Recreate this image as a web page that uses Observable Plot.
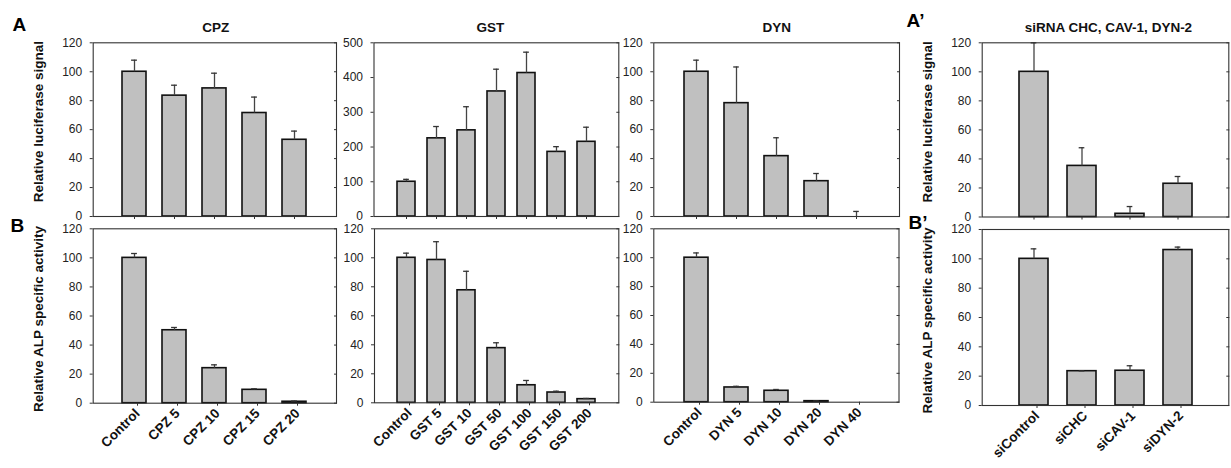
<!DOCTYPE html>
<html><head><meta charset="utf-8">
<script src="https://cdn.jsdelivr.net/npm/d3@7"></script>
<script src="https://cdn.jsdelivr.net/npm/@observablehq/plot@0.6"></script>
<style>
body{margin:0;background:#fff;}
#wrap{position:relative;width:1231px;height:468px;overflow:hidden;background:#fff;}
#wrap svg{position:absolute;left:0;top:0;}
</style></head><body><div id="wrap"></div>
<script>
// ---- data ----
const cpzCats = ["Control", "CPZ 5", "CPZ 10", "CPZ 15", "CPZ 20"];
const gstCats = ["Control", "GST 5", "GST 10", "GST 50", "GST 100", "GST 150", "GST 200"];
const dynCats = ["Control", "DYN 5", "DYN 10", "DYN 20", "DYN 40"];
const siCats = ["siControl", "siCHC", "siCAV-1", "siDYN-2"];

const cpzLuc = [100, 83.5, 88.5, 71.5, 53];
const cpzLucErr = [8, 7.2, 10.5, 11, 6];
const gstLuc = [100, 225, 248, 360, 413, 186, 215];
const gstLucErr = [7, 34, 68, 64, 60, 15, 42];
const dynLuc = [100, 78.3, 41.7, 24.4, 0];
const dynLucErr = [8, 25, 12.7, 5.3, 3.5];
const siLuc = [100, 35.2, 2.2, 22.9];
const siLucErr = [20, 12.5, 5, 5];

const cpzAlp = [100, 50.2, 24.1, 9.2, 1];
const cpzAlpErr = [3, 1.9, 2.3, 0.7, 0.5];
const gstAlp = [100, 98.5, 77.6, 37.7, 12.1, 7.1, 2.5];
const gstAlpErr = [3.2, 12.6, 13.1, 3.7, 3.3, 0.9, 0.5];
const dynAlp = [100, 10.2, 7.9, 0.7, 0];
const dynAlpErr = [3.3, 0.8, 0.9, 0.2, 0];
const siAlp = [100, 23.4, 23.7, 106];
const siAlpErr = [6.8, 0.2, 3.4, 2];

const titles = ["CPZ", "GST", "DYN", "siRNA CHC, CAV-1, DYN-2"];
const yLabelTop = "Relative luciferase signal";
const yLabelBottom = "Relative ALP specific activity";
const ticks120 = [0, 20, 40, 60, 80, 100, 120];
const ticks500 = [0, 100, 200, 300, 400, 500];

// ---- layout ----
const W = 1231, H = 468;
const FONT = "'Liberation Sans', Arial, Helvetica, sans-serif";
const PI = 0.4, PO = 0.72;

const panels = [
  {cats: cpzCats, vals: cpzLuc, errs: cpzLucErr, ymax: 120, ticks: ticks120, box: [92.7, 336, 42.3, 216], title: titles[0], tdx: 1, ylabel: yLabelTop, ldy: -8, letter: "A", lx: 12, lb: 30.5, labels: false},
  {cats: gstCats, vals: gstLuc, errs: gstLucErr, ymax: 500, ticks: ticks500, box: [373.5, 618.3, 42.3, 216], title: titles[1], tdx: -6, labels: false},
  {cats: dynCats, vals: dynLuc, errs: dynLucErr, ymax: 120, ticks: ticks120, box: [653.3, 899, 42.3, 216], title: titles[2], tdx: 0, labels: false},
  {cats: siCats, vals: siLuc, errs: siLucErr, ymax: 120, ticks: ticks120, box: [981.7, 1228.3, 42.3, 216.5], title: titles[3], tdx: 3, ylabel: yLabelTop, ldy: -8, letter: "A\u2019", lx: 906, lb: 26, labels: false},
  {cats: cpzCats, vals: cpzAlp, errs: cpzAlpErr, ymax: 120, ticks: ticks120, box: [92.7, 336, 228.3, 402.7], ylabel: yLabelBottom, ldy: 3, letter: "B", lx: 10, lb: 231.5, labels: true},
  {cats: gstCats, vals: gstAlp, errs: gstAlpErr, ymax: 120, ticks: ticks120, box: [374, 618.3, 228.3, 402.3], labels: true},
  {cats: dynCats, vals: dynAlp, errs: dynAlpErr, ymax: 120, ticks: ticks120, box: [653.3, 898.5, 228.3, 401.7], labels: true},
  {cats: siCats, vals: siAlp, errs: siAlpErr, ymax: 120, ticks: ticks120, box: [981.7, 1228.3, 229, 405], ylabel: yLabelBottom, ldy: 3, letter: "B\u2019", lx: 908, lb: 228, labels: true}
];

const wrap = document.getElementById("wrap");

for (const p of panels) {
  const [left, right, top, bottom] = p.box;
  const fw = right - left;
  const n = p.cats.length;
  const step = fw / (n - PI + 2 * PO);
  const bw = step * (1 - PI);
  const capInset = Math.max(0, (bw - 6) / 2);
  const rows = p.cats.map((c, i) => ({cat: c, value: p.vals[i], hi: Math.min(p.vals[i] + p.errs[i], p.ymax), err: p.errs[i]}));
  const errRows = rows.filter(d => d.err > 0);

  const marks = [
    Plot.barY(rows, {x: "cat", y: "value", fill: "#c0c0c0", stroke: "#111", strokeWidth: 1.6}),
    Plot.ruleX(errRows, {x: "cat", y1: "value", y2: "hi", stroke: "#444", strokeWidth: 1.3}),
    Plot.tickY(errRows, {x: "cat", y: "hi", stroke: "#333", strokeWidth: 1.3, insetLeft: capInset, insetRight: capInset}),
    Plot.frame({stroke: "#333", strokeWidth: 1.1}),
    Plot.axisY({ticks: p.ticks, tickSize: 3, tickPadding: 8, label: null, fontSize: 12, fill: "#222", stroke: "#333"}),
    Plot.axisY({anchor: "right", ticks: p.ticks, tickSize: 3, dx: -3, fill: "none", label: null, stroke: "#333"}),
    p.labels
      ? Plot.axisX({tickSize: 3, tickPadding: 5, tickRotate: -45, label: null, fontSize: 13.5, fontWeight: "bold", fill: "#111", stroke: "#333", dx: 3})
      : Plot.axisX({tickSize: 3, fill: "none", label: null, stroke: "#333"})
  ];
  if (p.title) {
    marks.push(Plot.text([p.title], {text: d => d, frameAnchor: "top", lineAnchor: "bottom", dy: 31 - top, dx: p.tdx, fontSize: 13.5, fontWeight: "bold", fill: "#111"}));
  }
  if (p.ylabel) {
    marks.push(Plot.text([p.ylabel], {text: d => d, frameAnchor: "left", rotate: -90, textAnchor: "middle", lineAnchor: "middle", dx: (left - 54.5) - left, dy: p.ldy, fontSize: 13.5, fontWeight: "bold", fill: "#111"}));
  }
  if (p.letter) {
    marks.push(Plot.text([p.letter], {text: d => d, frameAnchor: "top-left", textAnchor: "start", lineAnchor: "bottom", dx: p.lx - left, dy: p.lb - top, fontSize: 19, fontWeight: "bold", fill: "#000"}));
  }

  const chart = Plot.plot({
    width: W,
    height: H,
    marginLeft: left,
    marginRight: W - right,
    marginTop: top,
    marginBottom: H - bottom,
    style: {background: "transparent", fontFamily: FONT, fontSize: "12px", overflow: "visible"},
    x: {type: "band", domain: p.cats, paddingInner: PI, paddingOuter: PO},
    y: {domain: [0, p.ymax]},
    marks
  });
  wrap.appendChild(chart);
}
</script></body></html>
